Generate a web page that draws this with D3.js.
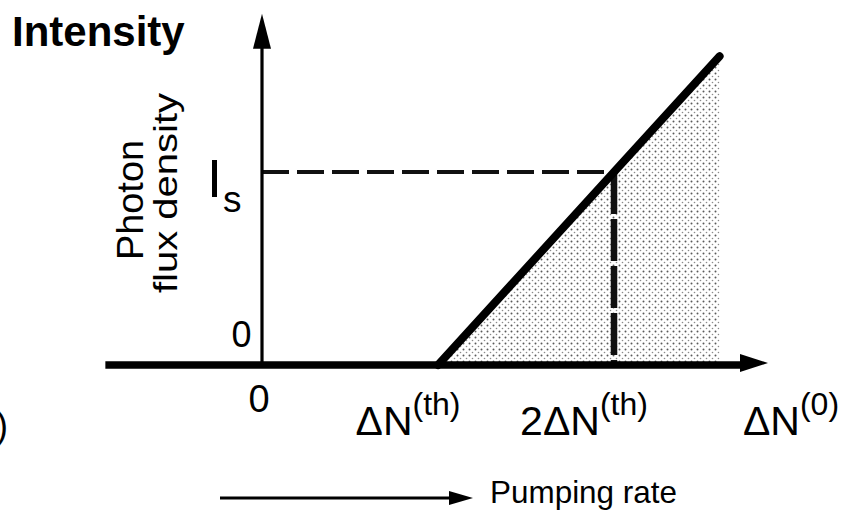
<!DOCTYPE html>
<html><head><meta charset="utf-8">
<script src="https://cdn.jsdelivr.net/npm/d3@7"></script>
<style>html,body{margin:0;padding:0;background:#fff;} svg{display:block;}</style>
</head><body>
<svg id="chart" width="842" height="516"></svg>
<script>
// ---- data ----
const xTickValues = [0, 1, 2, 3];
const xTickMain = ["0", "ΔN", "2ΔN", "ΔN"];
const xTickSup = ["", "(th)", "(th)", "(0)"];
const yTickValues = [0, 1];
const yTickMain = ["0", "I"];
const yTickSub = ["", "s"];
const outputX = [1, 2, 2.6];      // pumping rate, in units of ΔN(th)
const outputY = [0, 1, 1.6];      // photon flux density, in units of Is
const saturationX = 2;
const saturationY = 1;
const axisXExtent = [-0.89, 2.875];
const axisYExtent = [0, 1.82];
const titleText = "Intensity";
const yAxisLabel = ["Photon", "flux density"];
const xAxisLabel = "Pumping rate";

// ---- layout ----
const svg = d3.select("#chart");
const x = d3.scaleLinear().domain([0, 2]).range([262, 614]);
const y = d3.scaleLinear().domain([0, 1]).range([365, 172]);
const font = "'Liberation Sans', Arial, sans-serif";

const defs = svg.append("defs");
const pat = defs.append("pattern").attr("id", "stipple")
  .attr("patternUnits", "userSpaceOnUse").attr("width", 6).attr("height", 6);
pat.append("circle").attr("cx", 1.5).attr("cy", 1.5).attr("r", 1.0).attr("fill", "#5a5a5a");
pat.append("circle").attr("cx", 4.5).attr("cy", 4.5).attr("r", 0.8).attr("fill", "#8a8a8a");

// shaded region under output line
const last = outputX.length - 1;
const shade = [[outputX[0], 0]].concat(outputX.map((d, i) => [d, outputY[i]])).concat([[outputX[last], 0]]);
svg.append("path")
  .attr("d", d3.line().x(d => x(d[0])).y(d => y(d[1]))(shade) + "Z")
  .attr("fill", "url(#stipple)");

// dashed guide lines
svg.append("path")
  .attr("d", d3.line()([[x(0), y(saturationY)], [x(saturationX), y(saturationY)]]))
  .attr("stroke", "#111").attr("stroke-width", 4).attr("stroke-dasharray", "27 8").attr("fill", "none");
svg.append("path")
  .attr("d", d3.line()([[x(saturationX), y(saturationY)], [x(saturationX), y(0)]]))
  .attr("stroke", "#111").attr("stroke-width", 6.5).attr("stroke-dasharray", "42 5").attr("fill", "none");

// y axis
const yTop = y(axisYExtent[1]);
svg.append("line").attr("x1", x(0)).attr("x2", x(0)).attr("y1", y(0)).attr("y2", yTop + 30)
  .attr("stroke", "#000").attr("stroke-width", 3.2);
svg.append("path")
  .attr("d", `M${x(0)},${yTop} L${x(0) - 9},${yTop + 35} L${x(0) + 9},${yTop + 35} Z`)
  .attr("fill", "#000");

// x axis
const xRight = x(axisXExtent[1]);
svg.append("line").attr("x1", x(axisXExtent[0])).attr("x2", xRight - 26).attr("y1", y(0)).attr("y2", y(0))
  .attr("stroke", "#000").attr("stroke-width", 7.5);
svg.append("path")
  .attr("d", `M${xRight},${y(0) - 2} L${xRight - 28},${y(0) - 11} L${xRight - 28},${y(0) + 7} Z`)
  .attr("fill", "#000");

// output line
svg.append("path")
  .attr("d", d3.line().x((d, i) => x(d)).y((d, i) => y(outputY[i]))(outputX))
  .attr("stroke", "#000").attr("stroke-width", 8).attr("fill", "none")
  .attr("stroke-linecap", "round").attr("stroke-linejoin", "round");

// x tick labels
const xLabelDx = [-3, -30, -30, 1];
xTickValues.forEach((v, i) => {
  const t = svg.append("text").attr("x", x(v) + xLabelDx[i])
    .attr("y", i === 0 ? 412 : 435)
    .attr("text-anchor", "middle").attr("font-family", font)
    .attr("font-size", i === 0 ? 38 : 41).attr("fill", "#000");
  t.append("tspan").text(xTickMain[i]);
  if (xTickSup[i]) t.append("tspan").attr("font-size", 32).attr("dy", -20).text(xTickSup[i]);
});

// y tick labels
svg.append("text").attr("x", 241.5).attr("y", y(yTickValues[0]) - 18)
  .attr("text-anchor", "middle").attr("font-family", font).attr("font-size", 36).attr("fill", "#000")
  .text(yTickMain[0]);
const ist = svg.append("text").attr("x", 207).attr("y", y(yTickValues[1]) + 25)
  .attr("font-family", font).attr("font-size", 54).attr("fill", "#000");
ist.append("tspan").text(yTickMain[1]);
ist.append("tspan").attr("font-size", 37).attr("dy", 15).attr("dx", 1).text(yTickSub[1]);

// rotated y-axis label
svg.append("text").attr("transform", "translate(143,200) rotate(-90)")
  .attr("text-anchor", "middle").attr("font-family", font).attr("font-size", 36)
  .attr("textLength", 120).attr("lengthAdjust", "spacingAndGlyphs").text(yAxisLabel[0]);
svg.append("text").attr("transform", "translate(177,193) rotate(-90)")
  .attr("text-anchor", "middle").attr("font-family", font).attr("font-size", 33)
  .attr("textLength", 200).attr("lengthAdjust", "spacingAndGlyphs").text(yAxisLabel[1]);

// title
svg.append("text").attr("x", 12).attr("y", 46).attr("font-family", font)
  .attr("font-size", 42).attr("font-weight", "bold").attr("fill", "#000").text(titleText);

// pumping rate arrow + label
svg.append("line").attr("x1", 220).attr("x2", 452).attr("y1", 498).attr("y2", 498)
  .attr("stroke", "#000").attr("stroke-width", 3);
svg.append("path").attr("d", "M473,498 L449,491 L449,505 Z").attr("fill", "#000");
svg.append("text").attr("x", 490).attr("y", 503).attr("font-family", font).attr("font-size", 32)
  .attr("textLength", 187).attr("lengthAdjust", "spacingAndGlyphs").text(xAxisLabel);

// cropped parenthesis at left edge (as in the reference)
svg.append("text").attr("x", -4).attr("y", 438).attr("font-family", font).attr("font-size", 36).text(")");
</script>
</body></html>
